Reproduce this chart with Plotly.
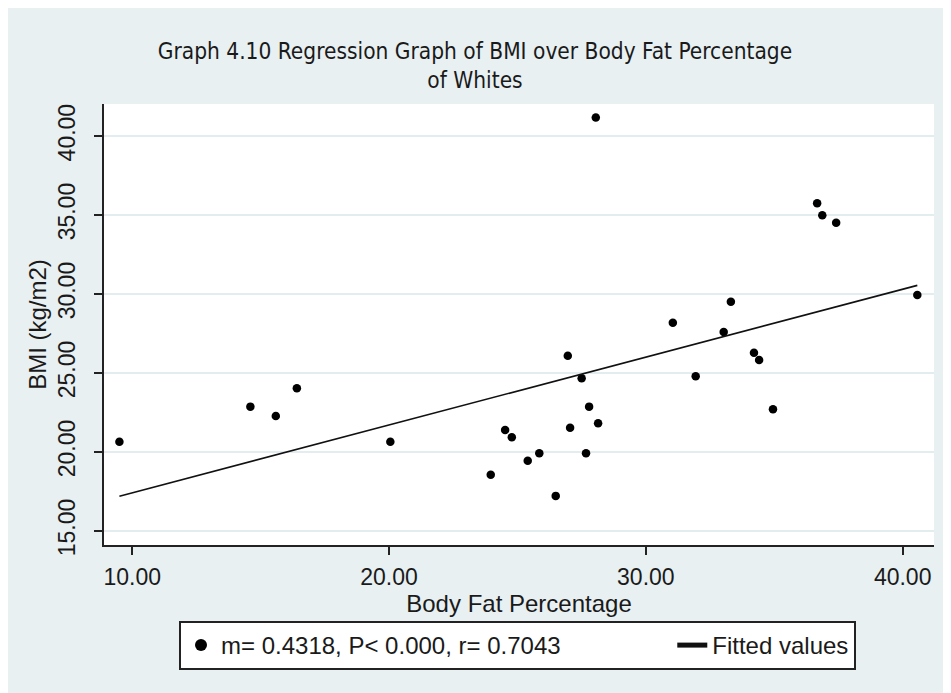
import numpy as np
import plotly.graph_objects as go

# ---- data ----
body_fat = [9.50, 14.60, 15.59, 16.41, 20.05, 23.96, 24.52, 24.78, 25.40, 25.85,
            26.49, 26.96, 27.05, 27.50, 27.67, 27.79, 28.05, 28.14, 31.05, 31.94,
            33.03, 33.31, 34.21, 34.41, 34.95, 36.67, 36.87, 37.41, 40.57]
bmi = [20.65, 22.87, 22.28, 24.03, 20.65, 18.56, 21.39, 20.93, 19.45, 19.92,
       17.22, 26.09, 21.54, 24.66, 19.92, 22.87, 41.18, 21.82, 28.18, 24.79,
       27.59, 29.51, 26.28, 25.82, 22.70, 35.74, 34.98, 34.51, 29.94]
x_ticks = [10, 20, 30, 40]
y_ticks = [15, 20, 25, 30, 35, 40]
scatter_label = "m= 0.4318, P< 0.000, r= 0.7043"
fit_label = "Fitted values"

# fitted regression line from the data
slope, intercept = np.polyfit(body_fat, bmi, 1)
fit_x = [min(body_fat), max(body_fat)]
fit_y = [intercept + slope * v for v in fit_x]

BG = "#E8F0F2"
GRID = "#E3ECEE"
AX = "#222222"
TXT = "#1a1a1a"
FONT = "Liberation Sans, Arial, sans-serif"

fig = go.Figure()
fig.add_trace(go.Scatter(x=body_fat, y=bmi, mode="markers",
                         name=scatter_label + "\u00a0" * 16,
                         marker=dict(color="black", size=8.5)))
fig.add_trace(go.Scatter(x=fit_x, y=fit_y, mode="lines", name=fit_label,
                         line=dict(color="#111111", width=1.6)))

# page has an 8px body margin, so the figure sits at (8, 8)
W, H = 943, 685
L, R, T, B = 96, 17, 96, 148
ph = H - T - B


def py_paper(p):  # figure pixel y -> paper y
    return (H - B - p) / ph


fig.update_layout(
    width=W, height=H,
    margin=dict(l=L, r=R, t=T, b=B),
    paper_bgcolor=BG, plot_bgcolor="white",
    font=dict(family=FONT, color=TXT, size=23),
    title=dict(text="Graph 4.10 Regression Graph of BMI over Body Fat Percentage<br>of Whites",
               x=467 / W, xref="container", xanchor="center",
               y=1 - 51 / H, yref="container", yanchor="middle",
               font=dict(family="DejaVu Sans Condensed, Liberation Sans, sans-serif",
                         size=22.5, color=TXT)),
    showlegend=True,
    legend=dict(orientation="h", x=(171 - L) / (W - L - R), xanchor="left",
                y=py_paper(613), yanchor="top",
                bgcolor="white", bordercolor="#222222", borderwidth=2,
                font=dict(size=24, color=TXT), itemsizing="constant"),
)
fig.update_xaxes(range=[8.90, 41.22], tickvals=x_ticks,
                 ticktext=[f"{v:.2f}" for v in x_ticks],
                 showgrid=False, zeroline=False,
                 showline=True, linecolor=AX, linewidth=1.5,
                 ticks="outside", ticklen=8, tickcolor=AX, tickwidth=1.5,
                 ticklabelstandoff=3,
                 title=dict(text="Body Fat Percentage", standoff=6,
                            font=dict(size=24, color=TXT)))
fig.update_yaxes(range=[14.11, 42.03], tickvals=y_ticks,
                 ticktext=[f"{v:.2f}" for v in y_ticks],
                 tickangle=-90,
                 showgrid=True, gridcolor=GRID, gridwidth=1.5, zeroline=False,
                 showline=True, linecolor=AX, linewidth=1.5,
                 ticks="outside", ticklen=8, tickcolor=AX, tickwidth=1.5,
                 ticklabelstandoff=10,
                 title=dict(text="BMI (kg/m2)", standoff=1,
                            font=dict(size=24, color=TXT)))

fig.write_html("out.html")
